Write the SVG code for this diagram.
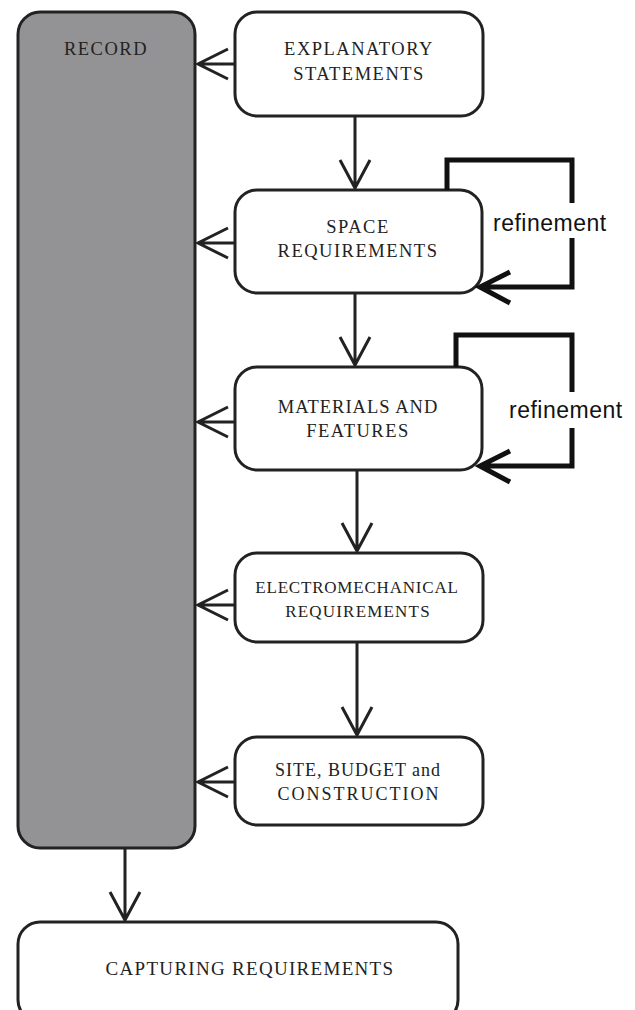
<svg xmlns="http://www.w3.org/2000/svg" width="635" height="1010" viewBox="0 0 635 1010">
<style>
.box{fill:#fff;stroke:#222;stroke-width:3}
.rec{fill:#939396;stroke:#222;stroke-width:3}
.t{font-family:"Liberation Serif",serif;font-size:18.5px;fill:#222;text-anchor:middle;letter-spacing:1.5px}
.r{font-family:"Liberation Sans",Arial,sans-serif;font-size:23px;fill:#111;letter-spacing:0.5px}
.ln{fill:none;stroke:#222;stroke-width:3}
.lp{fill:none;stroke:#111;stroke-width:5}
</style>
<rect width="635" height="1010" fill="#fff"/>
<g id="record"><rect class="rec" x="18" y="12" width="177" height="836" rx="22"/><text class="t" x="106" y="55">RECORD</text></g>
<g id="explanatory"><rect class="box" x="235" y="12" width="248" height="104" rx="22"/><text class="t" x="359" y="55">EXPLANATORY</text><text class="t" x="359" y="80">STATEMENTS</text></g>
<g id="space"><rect class="box" x="235" y="190" width="247" height="103" rx="22"/><text class="t" x="358" y="233">SPACE</text><text class="t" x="358" y="257">REQUIREMENTS</text></g>
<g id="materials"><rect class="box" x="235" y="367" width="247" height="103" rx="22"/><text class="t" x="358" y="413" style="letter-spacing:1px">MATERIALS AND</text><text class="t" x="358" y="437">FEATURES</text></g>
<g id="electro"><rect class="box" x="235" y="553" width="248" height="89" rx="22"/><text class="t" x="357" y="593" style="font-size:17px;letter-spacing:0.8px">ELECTROMECHANICAL</text><text class="t" x="358" y="617" style="font-size:17px;letter-spacing:1.2px">REQUIREMENTS</text></g>
<g id="site"><rect class="box" x="235" y="737" width="248" height="88" rx="22"/><text class="t" x="358" y="776" style="font-size:18px;letter-spacing:1px">SITE, BUDGET and</text><text class="t" x="359" y="800" style="font-size:18px;letter-spacing:2px">CONSTRUCTION</text></g>
<g id="capturing"><rect class="box" x="18" y="922" width="440" height="100" rx="22"/><text class="t" x="250" y="975" style="font-size:19px;letter-spacing:1.3px">CAPTURING REQUIREMENTS</text></g>
<g id="connectors">
<path class="ln" d="M235 64H198M228 49L198 64L228 79"/>
<path class="ln" d="M235 243H198M228 228L198 243L228 258"/>
<path class="ln" d="M235 422H198M228 407L198 422L228 437"/>
<path class="ln" d="M235 605H198M228 590L198 605L228 620"/>
<path class="ln" d="M235 782H198M228 767L198 782L228 797"/>
<path class="ln" d="M355 116V188M340 160L355 188L370 160"/>
<path class="ln" d="M355 293V365M340 337L355 365L370 337"/>
<path class="ln" d="M357 470V551M342 523L357 551L372 523"/>
<path class="ln" d="M357 642V735M342 707L357 735L372 707"/>
<path class="ln" d="M125 848V920M110 892L125 920L140 892"/>
<path class="lp" d="M447 190V160H572V203M572 238V287H480M510 272L480 287L510 303"/>
<path class="lp" d="M456 367V335H572V392M572 428V466H480M510 451L480 466L510 482"/>
</g>
<text class="r" x="493" y="231">refinement</text>
<text class="r" x="509" y="418">refinement</text>
</svg>
